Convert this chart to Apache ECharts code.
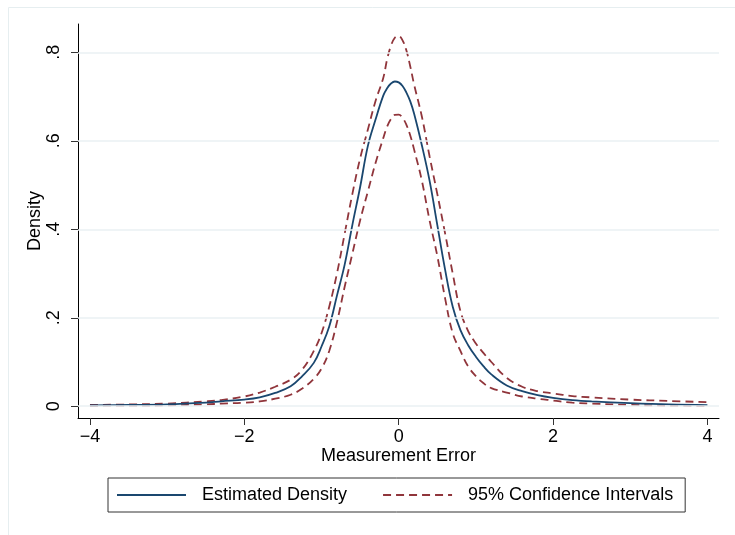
<!DOCTYPE html>
<html>
<head>
<meta charset="utf-8">
<script src="https://cdn.jsdelivr.net/npm/echarts@6/dist/echarts.min.js"></script>
<style>
html,body{margin:0;padding:0;background:#fff;}
#c{width:735px;height:535px;}
</style>
</head>
<body>
<div id="c"></div>
<script>
// x positions (Measurement Error)
const xs = [-4, -3.5, -3, -2.5, -2.3, -2, -1.8, -1.6, -1.4, -1.25, -1.1, -1.0, -0.9, -0.8, -0.7, -0.6, -0.5, -0.4, -0.3, -0.2, -0.15, -0.1, -0.05, 0, 0.05, 0.1, 0.15, 0.2, 0.3, 0.4, 0.5, 0.6, 0.7, 0.8, 0.9, 1.0, 1.1, 1.2, 1.4, 1.6, 1.8, 2.0, 2.25, 2.5, 3, 3.5, 4];
// Estimated density
const density = [0.002, 0.003, 0.004, 0.008, 0.011, 0.015, 0.020, 0.030, 0.045, 0.068, 0.098, 0.135, 0.18, 0.25, 0.32, 0.41, 0.495, 0.588, 0.648, 0.702, 0.719, 0.7295, 0.734, 0.732, 0.724, 0.709, 0.689, 0.661, 0.59, 0.51, 0.41, 0.31, 0.225, 0.172, 0.138, 0.112, 0.09, 0.072, 0.047, 0.034, 0.025, 0.019, 0.014, 0.011, 0.007, 0.004, 0.0025];
// Upper 95% confidence bound
const upper = [0.003, 0.004, 0.006, 0.011, 0.014, 0.022, 0.031, 0.044, 0.060, 0.083, 0.125, 0.165, 0.225, 0.30, 0.39, 0.48, 0.56, 0.625, 0.69, 0.742, 0.784, 0.815, 0.833, 0.837, 0.827, 0.804, 0.768, 0.727, 0.655, 0.565, 0.48, 0.392, 0.30, 0.215, 0.17, 0.142, 0.12, 0.10, 0.064, 0.044, 0.034, 0.029, 0.023, 0.020, 0.015, 0.012, 0.009];
// Lower 95% confidence bound
const lower = [0.001, 0.0015, 0.002, 0.004, 0.006, 0.008, 0.011, 0.017, 0.026, 0.040, 0.062, 0.085, 0.125, 0.19, 0.27, 0.345, 0.42, 0.485, 0.55, 0.606, 0.632, 0.649, 0.6585, 0.659, 0.652, 0.636, 0.612, 0.58, 0.51, 0.42, 0.34, 0.245, 0.165, 0.125, 0.09, 0.068, 0.052, 0.041, 0.031, 0.022, 0.017, 0.013, 0.008, 0.006, 0.003, 0.0015, 0.001];
// Tick values and labels
const xTicks = [-4, -2, 0, 2, 4];
const xTickLabels = ['\u22124', '\u22122', '0', '2', '4'];
const yTicks = [0, 0.2, 0.4, 0.6, 0.8];
const yTickLabels = ['0', '.2', '.4', '.6', '.8'];

const FONT = "'Liberation Sans', Arial, Helvetica, sans-serif";
const pair = arr => xs.map((x, i) => [x, arr[i]]);
const dash = [8, 5];

const chart = echarts.init(document.getElementById('c'), null, {renderer: 'canvas'});
chart.setOption({
  animation: false,
  backgroundColor: '#ffffff',
  textStyle: {fontFamily: FONT, color: '#000'},
  graphic: [{
    type: 'rect', left: 6, top: 5, shape: {width: 800, height: 600},
    style: {fill: 'none', stroke: '#e6eef0', lineWidth: 1}, silent: true, z: -10
  }],
  grid: {left: 78, right: 16, top: 24, bottom: 117, containLabel: false},
  xAxis: {
    type: 'value', min: -4.155, max: 4.15,
    name: 'Measurement Error', nameLocation: 'middle', nameGap: 29, nameMoveOverlap: false,
    nameTextStyle: {fontSize: 18, color: '#000', fontFamily: FONT},
    axisLine: {show: true, onZero: false, lineStyle: {color: '#000', width: 1}},
    axisTick: {show: true, length: 7, customValues: xTicks, lineStyle: {color: '#333', width: 1}},
    axisLabel: {customValues: xTicks, fontSize: 18, color: '#000', margin: 10, fontFamily: FONT,
      formatter: v => xTickLabels[xTicks.indexOf(v)]},
    splitLine: {show: false}
  },
  yAxis: {
    type: 'value', min: -0.0266, max: 0.864,
    name: 'Density', nameLocation: 'middle', nameGap: 34, nameRotate: 90, nameMoveOverlap: false,
    nameTextStyle: {fontSize: 18, color: '#000', fontFamily: FONT},
    axisLine: {show: true, onZero: false, lineStyle: {color: '#000', width: 1}},
    axisTick: {show: true, length: 7, customValues: yTicks, lineStyle: {color: '#333', width: 1}},
    axisLabel: {customValues: yTicks, rotate: 90, fontSize: 18, color: '#000', margin: 15, fontFamily: FONT,
      formatter: v => yTickLabels[yTicks.findIndex(t => Math.abs(t - v) < 1e-9)]},
    splitLine: {show: false}
  },
  legend: {
    left: 108, top: 478,
    padding: [8, 12, 8, 8],
    borderColor: '#333', borderWidth: 1,
    itemWidth: 69, itemHeight: 14, itemGap: 35,
    itemStyle: {opacity: 0, borderWidth: 0},
    textStyle: {fontSize: 18, color: '#000', fontFamily: FONT, padding: [0, 0, 0, 11]},
    data: ['Estimated Density', '95% Confidence Intervals']
  },
  series: [
    {
      name: 'grid', type: 'line', data: [], silent: true,
      markLine: {
        silent: true, symbol: 'none', label: {show: false},
        lineStyle: {color: '#eaf1f3', width: 1.5, type: 'solid'},
        data: yTicks.map(v => ({yAxis: v}))
      }, z: 1
    },
    {
      name: '95% Confidence Intervals', type: 'line', data: pair(upper),
      showSymbol: false, symbol: 'none', smooth: 0.4, z: 3,
      lineStyle: {color: '#90353b', width: 1.8, type: dash},
      itemStyle: {color: '#90353b'}
    },
    {
      name: '95% Confidence Intervals', type: 'line', data: pair(lower),
      showSymbol: false, symbol: 'none', smooth: 0.4, z: 3,
      lineStyle: {color: '#90353b', width: 1.8, type: dash},
      itemStyle: {color: '#90353b'}
    },
    {
      name: 'Estimated Density', type: 'line', data: pair(density),
      showSymbol: false, symbol: 'none', smooth: 0.4, z: 4,
      lineStyle: {color: '#1a476f', width: 1.8, type: 'solid'},
      itemStyle: {color: '#1a476f'}
    }
  ]
});
</script>
</body>
</html>
